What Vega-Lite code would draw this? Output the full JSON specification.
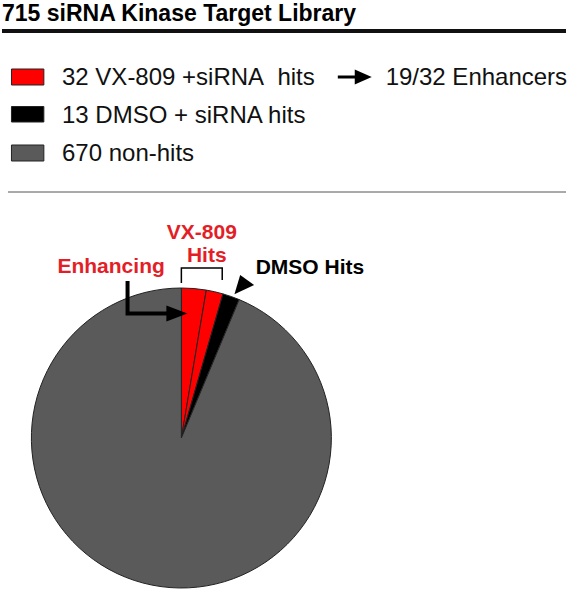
{
  "$schema": "https://vega.github.io/schema/vega-lite/v6.json",
  "width": 569,
  "height": 590,
  "autosize": {"type": "fit", "contains": "padding"},
  "padding": 0,
  "background": "white",
  "config": {"view": {"stroke": null}, "axis": {"disable": true}},
  "datasets": {
    "pie": [
      {"group": "32 VX-809 +siRNA\u00a0 hits", "part": "Enhancing", "n": 19, "ord": 1},
      {"group": "32 VX-809 +siRNA\u00a0 hits", "part": "Other VX-809 hits", "n": 13, "ord": 2},
      {"group": "13 DMSO + siRNA hits", "part": "DMSO hits", "n": 13, "ord": 3},
      {"group": "670 non-hits", "part": "Non-hits", "n": 670, "ord": 4}
    ],
    "legend": [
      {"group": "32 VX-809 +siRNA\u00a0 hits", "x": 9.5, "x2": 42, "y": 69, "y2": 85, "ty": 85},
      {"group": "13 DMSO + siRNA hits", "x": 9.5, "x2": 42, "y": 106.5, "y2": 122, "ty": 122.5},
      {"group": "670 non-hits", "x": 9.5, "x2": 42, "y": 145, "y2": 161, "ty": 161}
    ],
    "texts": [
      {"kind": "title", "text": "715 siRNA Kinase Target Library", "x": 0, "y": 21},
      {"kind": "note", "text": "19/32 Enhancers", "x": 385, "y": 85},
      {"kind": "red", "text": "VX-809", "x": 200.5, "y": 239},
      {"kind": "red", "text": "Hits", "x": 205.5, "y": 262},
      {"kind": "red", "text": "Enhancing", "x": 109.5, "y": 272.5},
      {"kind": "black", "text": "DMSO Hits", "x": 309, "y": 274}
    ],
    "rules": [
      {"kind": "thick", "x": 0, "x2": 566, "y": 31, "y2": 31},
      {"kind": "thin", "x": 6, "x2": 566, "y": 192, "y2": 192},
      {"kind": "legendarrow", "x": 337, "x2": 356, "y": 77, "y2": 77}
    ],
    "paths": [
      {"path": "bracket", "seq": 1, "x": 180, "y": 283},
      {"path": "bracket", "seq": 2, "x": 180, "y": 268},
      {"path": "bracket", "seq": 3, "x": 221, "y": 268},
      {"path": "bracket", "seq": 4, "x": 221, "y": 280},
      {"path": "enh", "seq": 1, "x": 126, "y": 281},
      {"path": "enh", "seq": 2, "x": 126, "y": 313.5},
      {"path": "enh", "seq": 3, "x": 168, "y": 313.5}
    ],
    "heads": [
      {"head": "enh", "x": 175.5, "y": 313.5},
      {"head": "legend", "x": 362.5, "y": 77},
      {"head": "dmso", "x": 241.8, "y": 284.8}
    ]
  },
  "layer": [
    {
      "data": {"name": "pie"},
      "mark": {"type": "arc", "outerRadius": 150, "stroke": "#222222", "strokeWidth": 1},
      "encoding": {
        "x": {"datum": 180, "type": "quantitative", "scale": {"domain": [0, 569], "nice": false, "zero": false}},
        "y": {"datum": 438, "type": "quantitative", "scale": {"domain": [0, 590], "nice": false, "zero": false, "reverse": true}},
        "theta": {"field": "n", "type": "quantitative", "stack": true},
        "order": {"field": "ord", "type": "quantitative"},
        "detail": {"field": "part"},
        "color": {"field": "group", "type": "nominal", "legend": null,
          "scale": {"domain": ["32 VX-809 +siRNA\u00a0 hits", "13 DMSO + siRNA hits", "670 non-hits"], "range": ["#ff0000", "#000000", "#5a5a5a"]}}
      }
    },
    {
      "data": {"name": "legend"},
      "mark": {"type": "rect", "stroke": "#222222", "strokeWidth": 1},
      "encoding": {
        "x": {"field": "x", "type": "quantitative", "scale": {"domain": [0, 569], "nice": false, "zero": false}},
        "x2": {"field": "x2"},
        "y": {"field": "y", "type": "quantitative", "scale": {"domain": [0, 590], "nice": false, "zero": false, "reverse": true}},
        "y2": {"field": "y2"},
        "color": {"field": "group", "type": "nominal", "legend": null}
      }
    },
    {
      "data": {"name": "legend"},
      "mark": {"type": "text", "align": "left", "baseline": "alphabetic", "font": "Liberation Sans", "fontSize": 24, "color": "#111111", "dx": 60},
      "encoding": {
        "x": {"datum": 0, "type": "quantitative"},
        "y": {"field": "ty", "type": "quantitative"},
        "text": {"field": "group"}
      }
    },
    {
      "data": {"name": "texts"},
      "transform": [{"filter": "datum.kind === 'title'"}],
      "mark": {"type": "text", "align": "left", "baseline": "alphabetic", "font": "Liberation Sans", "fontSize": 23, "fontWeight": "bold", "color": "#000000"},
      "encoding": {
        "x": {"field": "x", "type": "quantitative"},
        "y": {"field": "y", "type": "quantitative"},
        "text": {"field": "text"}
      }
    },
    {
      "data": {"name": "texts"},
      "transform": [{"filter": "datum.kind === 'note'"}],
      "mark": {"type": "text", "align": "left", "baseline": "alphabetic", "font": "Liberation Sans", "fontSize": 24, "color": "#111111"},
      "encoding": {
        "x": {"field": "x", "type": "quantitative"},
        "y": {"field": "y", "type": "quantitative"},
        "text": {"field": "text"}
      }
    },
    {
      "data": {"name": "texts"},
      "transform": [{"filter": "datum.kind === 'red'"}],
      "mark": {"type": "text", "align": "center", "baseline": "alphabetic", "font": "Liberation Sans", "fontSize": 21, "fontWeight": "bold", "color": "#e41e26"},
      "encoding": {
        "x": {"field": "x", "type": "quantitative"},
        "y": {"field": "y", "type": "quantitative"},
        "text": {"field": "text"}
      }
    },
    {
      "data": {"name": "texts"},
      "transform": [{"filter": "datum.kind === 'black'"}],
      "mark": {"type": "text", "align": "center", "baseline": "alphabetic", "font": "Liberation Sans", "fontSize": 21, "fontWeight": "bold", "color": "#000000"},
      "encoding": {
        "x": {"field": "x", "type": "quantitative"},
        "y": {"field": "y", "type": "quantitative"},
        "text": {"field": "text"}
      }
    },
    {
      "data": {"name": "rules"},
      "transform": [{"filter": "datum.kind === 'thick'"}],
      "mark": {"type": "rule", "color": "#111111", "strokeWidth": 4},
      "encoding": {
        "x": {"field": "x", "type": "quantitative"}, "x2": {"field": "x2"},
        "y": {"field": "y", "type": "quantitative"}, "y2": {"field": "y2"}
      }
    },
    {
      "data": {"name": "rules"},
      "transform": [{"filter": "datum.kind === 'thin'"}],
      "mark": {"type": "rule", "color": "#555555", "strokeWidth": 1},
      "encoding": {
        "x": {"field": "x", "type": "quantitative"}, "x2": {"field": "x2"},
        "y": {"field": "y", "type": "quantitative"}, "y2": {"field": "y2"}
      }
    },
    {
      "data": {"name": "rules"},
      "transform": [{"filter": "datum.kind === 'legendarrow'"}],
      "mark": {"type": "rule", "color": "#000000", "strokeWidth": 3},
      "encoding": {
        "x": {"field": "x", "type": "quantitative"}, "x2": {"field": "x2"},
        "y": {"field": "y", "type": "quantitative"}, "y2": {"field": "y2"}
      }
    },
    {
      "data": {"name": "paths"},
      "transform": [{"filter": "datum.path === 'bracket'"}],
      "mark": {"type": "line", "color": "#000000", "strokeWidth": 1.5, "strokeJoin": "miter"},
      "encoding": {
        "x": {"field": "x", "type": "quantitative"},
        "y": {"field": "y", "type": "quantitative"},
        "order": {"field": "seq", "type": "quantitative"}
      }
    },
    {
      "data": {"name": "paths"},
      "transform": [{"filter": "datum.path === 'enh'"}],
      "mark": {"type": "line", "color": "#000000", "strokeWidth": 4, "strokeJoin": "miter"},
      "encoding": {
        "x": {"field": "x", "type": "quantitative"},
        "y": {"field": "y", "type": "quantitative"},
        "order": {"field": "seq", "type": "quantitative"}
      }
    },
    {
      "data": {"name": "heads"},
      "transform": [{"filter": "datum.head === 'enh'"}],
      "mark": {"type": "point", "filled": true, "color": "#000000", "opacity": 1, "shape": "M-1,-0.76L1,0L-1,0.76Z", "size": 441},
      "encoding": {
        "x": {"field": "x", "type": "quantitative"},
        "y": {"field": "y", "type": "quantitative"}
      }
    },
    {
      "data": {"name": "heads"},
      "transform": [{"filter": "datum.head === 'legend'"}],
      "mark": {"type": "point", "filled": true, "color": "#000000", "opacity": 1, "shape": "M-1,-0.88L1,0L-1,0.88Z", "size": 289},
      "encoding": {
        "x": {"field": "x", "type": "quantitative"},
        "y": {"field": "y", "type": "quantitative"}
      }
    },
    {
      "data": {"name": "heads"},
      "transform": [{"filter": "datum.head === 'dmso'"}],
      "mark": {"type": "point", "filled": true, "color": "#000000", "opacity": 1, "shape": "M-0.71,0.79L-0.23,-0.82L0.93,0.02Z", "size": 576},
      "encoding": {
        "x": {"field": "x", "type": "quantitative"},
        "y": {"field": "y", "type": "quantitative"}
      }
    }
  ]
}
